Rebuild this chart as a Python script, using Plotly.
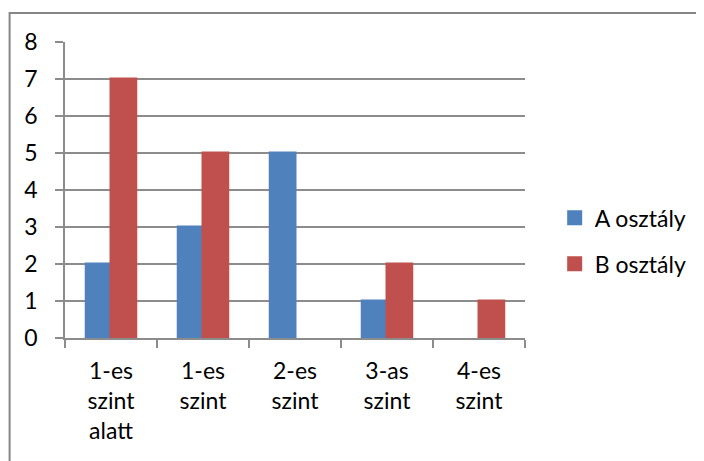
import plotly.graph_objects as go

categories = ["1-es<br>szint<br>alatt", "1-es<br>szint", "2-es<br>szint", "3-as<br>szint", "4-es<br>szint"]
a_values = [2, 3, 5, 1, 0]
b_values = [7, 5, 0, 2, 1]
series_names = ["A osztály", "B osztály"]
y_ticks = [0, 1, 2, 3, 4, 5, 6, 7, 8]

# page has an 8px body margin, so figure coordinates are screen - 8
W, H = 696, 453
ml, mr, mt, mb = 57, 174, 34, 123
pw, ph = W - ml - mr, H - mt - mb

font = dict(family="Lato, Open Sans, sans-serif", size=23, color="#000000")
grid = "#8c8c8c"
blue, red = "#4F81BD", "#C0504D"


def nz(vals):
    # zero-height bars are not drawn in the reference
    return [v if v != 0 else None for v in vals]


fig = go.Figure()
fig.add_trace(go.Bar(x=categories, y=nz(a_values), name=series_names[0],
                     marker=dict(color=blue, line=dict(color=blue, width=3)),
                     legendgroup="a"))
fig.add_trace(go.Bar(x=categories, y=nz(b_values), name=series_names[1],
                     marker=dict(color=red, line=dict(color=red, width=3)),
                     legendgroup="b"))

# outer chart border (top and left visible)
bx0 = (1 - ml) / pw
by1 = 1 + (mt - 5) / ph
fig.add_shape(type="rect", xref="paper", yref="paper",
              x0=bx0, x1=(W + 10 - ml) / pw, y0=-(mb + 10) / ph, y1=by1,
              line=dict(color="#868686", width=2), layer="below")

fig.update_layout(
    width=W, height=H,
    margin=dict(l=ml, r=mr, t=mt, b=mb),
    paper_bgcolor="white", plot_bgcolor="white",
    font=font,
    barmode="group", bargap=0.462, bargroupgap=0,
    showlegend=True,
    legend=dict(x=(552 - ml) / pw, y=0.328, xanchor="left", yanchor="middle",
                font=dict(size=23), traceorder="grouped", tracegroupgap=13,
                itemwidth=30, bgcolor="rgba(0,0,0,0)"),
    xaxis=dict(showline=True, linecolor=grid, linewidth=1.5, ticks="outside",
               tickson="boundaries", ticklen=8, tickcolor=grid, tickwidth=1.5,
               showgrid=False, ticklabelstandoff=12),
    yaxis=dict(range=[0, 8], tickvals=y_ticks, showline=True, linecolor=grid, linewidth=1.5,
               ticks="outside", ticklen=8, tickcolor=grid, tickwidth=1.5,
               showgrid=True, gridcolor=grid, gridwidth=1.5, zeroline=False,
               ticklabelstandoff=13),
)

fig.write_html("out.html")
